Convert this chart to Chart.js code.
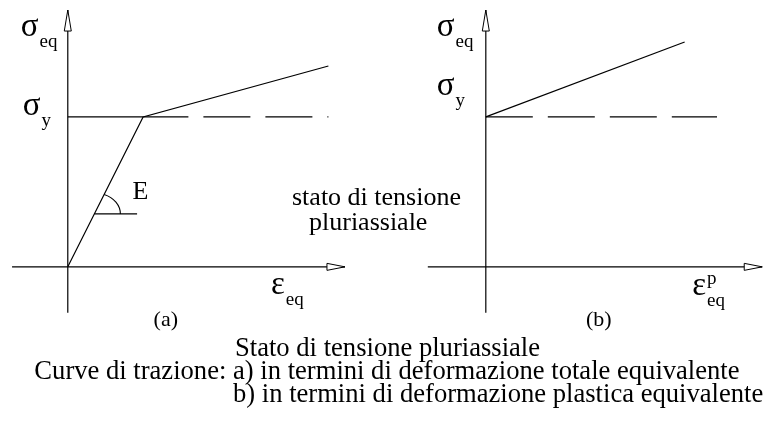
<!DOCTYPE html>
<html>
<head>
<meta charset="utf-8">
<script src="https://cdn.jsdelivr.net/npm/chart.js@4"></script>
<style>
  html, body { margin: 0; padding: 0; background: #fff; }
  #wrap { width: 766px; height: 428px; }
</style>
</head>
<body>
<div id="wrap"><canvas id="chart" width="766" height="428"></canvas></div>
<script>
// normalised units: strain / yield strain, stress / yield stress
const sigmaY = 1;

// (a) total strain curve: elastic branch, then hardening branch
const totalStrain = [0, 1, 3.46];
const totalStress = [0, 1, 1.34];

// (b) plastic strain curve, starts at the yield stress
const plasticStrain = [0, 2.64];
const plasticStress = [1, 1.5];

// where the dashed yield level stops
const yieldEndA = 3.46;
const yieldEndB = 3.07;

// slope mark "E" on the elastic branch
const slopeMarkStress = 0.353;
const slopeMarkEnd = 0.92;

// axis extents [from, to]
const axisA = { x: [-0.74, 3.68], y: [-0.307, 1.713] };
const axisB = { x: [-0.77, 3.67], y: [-0.307, 1.713] };

const panelLabels = ['(a)', '(b)'];
const middleText = ['stato di tensione', 'pluriassiale'];
const captionTitle = 'Stato di tensione pluriassiale';
const captionLead = 'Curve di trazione: ';
const captionItems = [
  'a) in termini di deformazione totale equivalente',
  'b) in termini di deformazione plastica equivalente'
];

const pts = (xs, ys) => xs.map((v, i) => ({ x: v, y: ys[i] }));

const FONT = '"Liberation Serif", "Times New Roman", serif';

function line(data, xAxisID, extra) {
  return Object.assign({
    data: data,
    xAxisID: xAxisID,
    showLine: true,
    borderColor: '#000',
    borderWidth: 1.2,
    pointRadius: 0,
    tension: 0,
    fill: false
  }, extra || {});
}

// writes a symbol with optional subscript / superscript
function symbol(ctx, main, sub, sup, x, y) {
  ctx.font = '33px ' + FONT;
  ctx.fillText(main, x, y);
  const w = ctx.measureText(main).width;
  ctx.font = '19px ' + FONT;
  if (sub) ctx.fillText(sub, x + w + 1, y + 11);
  if (sup) ctx.fillText(sup, x + w + 1, y - 11);
}

function arrowRight(ctx, x, y) {
  ctx.beginPath();
  ctx.moveTo(x, y);
  ctx.lineTo(x - 18, y - 3.5);
  ctx.lineTo(x - 18, y + 3.5);
  ctx.closePath();
  ctx.fill();
  ctx.stroke();
}

function arrowUp(ctx, x, y) {
  ctx.beginPath();
  ctx.moveTo(x, y);
  ctx.lineTo(x - 3.5, y + 21);
  ctx.lineTo(x + 3.5, y + 21);
  ctx.closePath();
  ctx.fill();
  ctx.stroke();
}

const decorations = {
  id: 'decorations',
  afterDatasetsDraw(chart) {
    const ctx = chart.ctx;
    const sx = chart.scales.x, sx2 = chart.scales.x2, sy = chart.scales.y;
    const y0 = sy.getPixelForValue(0);
    const yY = sy.getPixelForValue(sigmaY);
    const xa0 = sx.getPixelForValue(0);
    const xb0 = sx2.getPixelForValue(0);
    const xaEnd = sx.getPixelForValue(axisA.x[1]);
    const xbEnd = sx2.getPixelForValue(axisB.x[1]);
    const yTop = sy.getPixelForValue(axisA.y[1]);

    ctx.save();
    ctx.strokeStyle = '#000';
    ctx.fillStyle = '#fff';
    ctx.lineWidth = 1;
    arrowRight(ctx, xaEnd, y0);
    arrowRight(ctx, xbEnd, y0);
    arrowUp(ctx, xa0, yTop);
    arrowUp(ctx, xb0, sy.getPixelForValue(axisB.y[1]));

    // arc of the slope mark
    const cx = sx.getPixelForValue(slopeMarkStress * totalStrain[1] / totalStress[1]);
    const cy = sy.getPixelForValue(slopeMarkStress);
    const dx = sx.getPixelForValue(totalStrain[1]) - xa0;
    const dy = y0 - yY;
    const rx = 26, ry = 21;
    const t = Math.atan((dy / dx) * rx / ry);
    ctx.lineWidth = 1.1;
    ctx.beginPath();
    ctx.ellipse(cx, cy, rx, ry, 0, -t, 0);
    ctx.stroke();

    ctx.fillStyle = '#000';
    ctx.textBaseline = 'alphabetic';
    ctx.textAlign = 'left';

    // panel (a) labels
    symbol(ctx, 'σ', 'eq', null, xa0 - 47, yTop + 26);
    symbol(ctx, 'σ', 'y', null, xa0 - 45, yY - 2);
    symbol(ctx, 'ε', 'eq', null, xaEnd - 74, y0 + 27);
    ctx.font = '26px ' + FONT;
    ctx.fillText('E', cx + 38, cy - 15);

    // panel (b) labels
    symbol(ctx, 'σ', 'eq', null, xb0 - 49, yTop + 26);
    symbol(ctx, 'σ', 'y', null, xb0 - 49, yY - 22);
    symbol(ctx, 'ε', 'eq', 'p', xbEnd - 70, y0 + 28);

    ctx.textAlign = 'center';
    ctx.font = '22px ' + FONT;
    ctx.fillText(panelLabels[0], xa0 + 98, y0 + 59);
    ctx.fillText(panelLabels[1], xb0 + 113, y0 + 59);

    ctx.textAlign = 'left';
    ctx.font = '26px ' + FONT;
    ctx.fillText(middleText[0], 292, 205);
    ctx.fillText(middleText[1], 309, 230);

    // caption: a) and b) share the same left edge, lead text sits before a)
    const tab = 233;
    ctx.font = '26.6px ' + FONT;
    ctx.fillText(captionTitle, tab + 2, 356);
    ctx.textAlign = 'right';
    ctx.fillText(captionLead, tab, 379);
    ctx.textAlign = 'left';
    ctx.fillText(captionItems[0], tab, 379);
    ctx.fillText(captionItems[1], tab, 402);
    ctx.restore();
  }
};

new Chart(document.getElementById('chart'), {
  type: 'scatter',
  data: {
    datasets: [
      // axes
      line([{ x: axisA.x[0], y: 0 }, { x: axisA.x[1], y: 0 }], 'x'),
      line([{ x: 0, y: axisA.y[0] }, { x: 0, y: axisA.y[1] }], 'x'),
      line([{ x: axisB.x[0], y: 0 }, { x: axisB.x[1], y: 0 }], 'x2'),
      line([{ x: 0, y: axisB.y[0] }, { x: 0, y: axisB.y[1] }], 'x2'),
      // (a)
      line(pts(totalStrain, totalStress), 'x'),
      line([{ x: 0, y: sigmaY }, { x: totalStrain[1], y: sigmaY }], 'x'),
      line([{ x: yieldEndA, y: sigmaY }, { x: totalStrain[1], y: sigmaY }], 'x',
        { borderDash: [47, 15], borderDashOffset: 46 }),
      line([{ x: slopeMarkStress * totalStrain[1] / totalStress[1], y: slopeMarkStress },
            { x: slopeMarkEnd, y: slopeMarkStress }], 'x'),
      // (b)
      line(pts(plasticStrain, plasticStress), 'x2'),
      line([{ x: 0, y: sigmaY }, { x: yieldEndB, y: sigmaY }], 'x2',
        { borderDash: [47, 15] })
    ]
  },
  options: {
    responsive: false,
    devicePixelRatio: 1,
    animation: false,
    events: [],
    layout: { padding: 0 },
    plugins: { legend: { display: false }, tooltip: { enabled: false } },
    scales: {
      x: { type: 'linear', display: false, min: -0.9, max: 9.27 },
      x2: { type: 'linear', display: false, min: -6.45, max: 3.72 },
      y: { type: 'linear', display: false, min: -1.075, max: 1.78 }
    }
  },
  plugins: [decorations]
});
</script>
</body>
</html>
